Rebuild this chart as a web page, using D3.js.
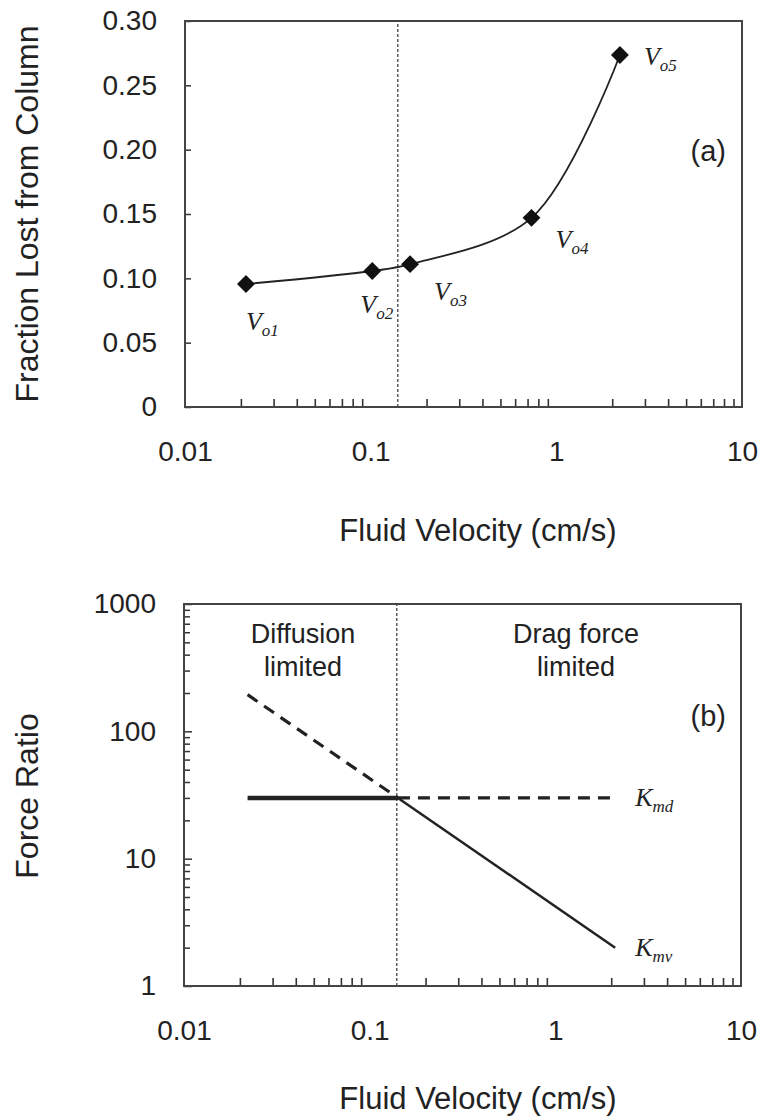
<!DOCTYPE html>
<html>
<head>
<meta charset="utf-8">
<script src="https://cdn.jsdelivr.net/npm/d3@7"></script>
<style>
body { margin: 0; background: #fff; }
text { font-family: "Liberation Sans", Arial, sans-serif; fill: #222; }
.it { font-family: "Liberation Serif", "Times New Roman", serif; font-style: italic; }
</style>
</head>
<body>
<svg id="chart" width="764" height="1120"></svg>
<script>
// panel (a) data
var velocity = [0.0213, 0.102, 0.163, 0.735, 2.2]
var fractionLost = [0.0956, 0.1057, 0.111, 0.147, 0.2736]
var pointNames = ["o1", "o2", "o3", "o4", "o5"]
var criticalVelocity = 0.14

// panel (b) data
var ratioVelocity = [0.022, 0.142, 2.1]
var kmd = [30, 30, 30]
var kmv = [194, 30, 2.0]

var xTicks = [0.01, 0.1, 1, 10]
var fracTicks = [0, 0.05, 0.10, 0.15, 0.20, 0.25, 0.30]
var ratioTicks = [1, 10, 100, 1000]

var svg = d3.select('#chart')

function minors(lo, hi) {
    var out = []
    for (var e = lo; e < hi; e++)
        for (var k = 2; k <= 9; k++) out.push(k * Math.pow(10, e))
    return out
}

function frame(g, x, y) {
    var r = x.range(), t = y.range()
    g.append("rect")
        .attr("x", r[0]).attr("y", t[1])
        .attr("width", r[1] - r[0]).attr("height", t[0] - t[1])
        .attr("fill", "none").attr("stroke", "#444").attr("stroke-width", 2)
}

function xAxisLog(g, x, y0) {
    // inward minor ticks
    g.append("g")
        .attr("transform", `translate(0,${y0})`)
        .call(d3.axisBottom(x).tickValues(minors(-2, 1)).tickSize(-8).tickFormat(""))
        .call(a => a.select(".domain").remove())
        .call(a => a.selectAll("line").attr("stroke", "#333").attr("stroke-width", 1.6))
    g.append("g")
        .attr("transform", `translate(0,${y0})`)
        .call(d3.axisBottom(x).tickValues(xTicks).tickSize(0).tickPadding(34)
            .tickFormat(d => d < 1 ? String(d) : d3.format("d")(d)))
        .call(a => a.select(".domain").remove())
        .call(a => a.selectAll("text").attr("font-size", 28).attr("fill", "#222")
            .attr("font-family", '"Liberation Sans", Arial, sans-serif'))
}

function vline(g, x, y, v) {
    g.append("line")
        .attr("x1", x(v)).attr("x2", x(v))
        .attr("y1", y.range()[0]).attr("y2", y.range()[1])
        .attr("stroke", "#444").attr("stroke-width", 1.3)
        .attr("stroke-dasharray", "3,2")
}

// ---------- panel (a) ----------
var xa = d3.scaleLog().domain([0.01, 10]).range([185, 742])
var ya = d3.scaleLinear().domain([0, 0.30]).range([407, 21])
var ga = svg.append("g")

ga.append("g")
    .attr("transform", `translate(${xa.range()[0]},0)`)
    .call(d3.axisLeft(ya).tickValues(fracTicks).tickSize(-6).tickPadding(28)
        .tickFormat(d => d === 0 ? "0" : d3.format(".2f")(d)))
    .call(a => a.select(".domain").remove())
    .call(a => a.selectAll("line").attr("stroke", "#333").attr("stroke-width", 1.5))
    .call(a => a.selectAll("text").attr("font-size", 28).attr("fill", "#222")
        .attr("font-family", '"Liberation Sans", Arial, sans-serif'))

xAxisLog(ga, xa, 407)
vline(ga, xa, ya, criticalVelocity)

var pts = velocity.map((v, i) => [v, fractionLost[i]])
ga.append("path")
    .attr("d", d3.line().x(d => xa(d[0])).y(d => ya(d[1])).curve(d3.curveCatmullRom.alpha(0.5))(pts))
    .attr("fill", "none").attr("stroke", "#222").attr("stroke-width", 1.8)

ga.selectAll(".pt").data(pts).enter().append("path")
    .attr("transform", d => `translate(${xa(d[0])},${ya(d[1])}) rotate(45)`)
    .attr("d", d3.symbol().type(d3.symbolSquare).size(160))
    .attr("fill", "#111")

var labelOff = [[0, 46], [-12, 42], [24, 36], [24, 30], [24, 10]]
var lbl = ga.selectAll(".vl").data(pts).enter().append("text")
    .attr("class", "it")
    .attr("x", (d, i) => xa(d[0]) + labelOff[i][0])
    .attr("y", (d, i) => ya(d[1]) + labelOff[i][1])
    .attr("font-size", 26)
lbl.append("tspan").text("V")
lbl.append("tspan").attr("font-size", 17).attr("dy", 6).text((d, i) => pointNames[i])

ga.append("text").attr("x", 726).attr("y", 161).attr("text-anchor", "end")
    .attr("font-size", 29).text("(a)")

ga.append("text").attr("x", 478).attr("y", 541).attr("text-anchor", "middle")
    .attr("font-size", 31).text("Fluid Velocity (cm/s)")
ga.append("text").attr("transform", "translate(38,214) rotate(-90)")
    .attr("text-anchor", "middle").attr("font-size", 32).text("Fraction Lost from Column")

frame(ga, xa, ya)

// ---------- panel (b) ----------
var xb = d3.scaleLog().domain([0.01, 10]).range([184, 741])
var yb = d3.scaleLog().domain([1, 1000]).range([986, 604])
var gb = svg.append("g")

gb.append("g")
    .attr("transform", `translate(${xb.range()[0]},0)`)
    .call(d3.axisLeft(yb).tickValues(minors(0, 3)).tickSize(-6).tickFormat(""))
    .call(a => a.select(".domain").remove())
    .call(a => a.selectAll("line").attr("stroke", "#333").attr("stroke-width", 1.5))
gb.append("g")
    .attr("transform", `translate(${xb.range()[0]},0)`)
    .call(d3.axisLeft(yb).tickValues(ratioTicks).tickSize(-8).tickPadding(28)
        .tickFormat(d3.format("d")))
    .call(a => a.select(".domain").remove())
    .call(a => a.selectAll("line").attr("stroke", "#333").attr("stroke-width", 1.5))
    .call(a => a.selectAll("text").attr("font-size", 28).attr("fill", "#222")
        .attr("font-family", '"Liberation Sans", Arial, sans-serif'))

xAxisLog(gb, xb, 986)
vline(gb, xb, yb, criticalVelocity)

var lineB = d3.line().x(d => xb(d[0])).y(d => yb(d[1]))
var kmdPts = ratioVelocity.map((v, i) => [v, kmd[i]])
var kmvPts = ratioVelocity.map((v, i) => [v, kmv[i]])

// K_md: solid while diffusion limited, dashed after
gb.append("path").attr("d", lineB(kmdPts.slice(0, 2)))
    .attr("fill", "none").attr("stroke", "#222").attr("stroke-width", 4.5)
gb.append("path").attr("d", lineB(kmdPts.slice(1)))
    .attr("fill", "none").attr("stroke", "#222").attr("stroke-width", 3.2)
    .attr("stroke-dasharray", "12,8")
// K_mv: dashed while diffusion limited, solid after
gb.append("path").attr("d", lineB(kmvPts.slice(0, 2)))
    .attr("fill", "none").attr("stroke", "#222").attr("stroke-width", 3.2)
    .attr("stroke-dasharray", "12,8")
gb.append("path").attr("d", lineB(kmvPts.slice(1)))
    .attr("fill", "none").attr("stroke", "#222").attr("stroke-width", 2.5)

var kLabels = [["K", "md", kmdPts[2]], ["K", "mv", kmvPts[2]]]
var kl = gb.selectAll(".kl").data(kLabels).enter().append("text")
    .attr("class", "it")
    .attr("x", d => xb(d[2][0]) + 20)
    .attr("y", d => yb(d[2][1]) + 8)
    .attr("font-size", 26)
kl.append("tspan").text(d => d[0])
kl.append("tspan").attr("font-size", 17).attr("dy", 6).text(d => d[1])

var regions = [["Diffusion", "limited", 303], ["Drag force", "limited", 576]]
regions.forEach(function(r) {
    gb.append("text").attr("x", r[2]).attr("y", 643).attr("text-anchor", "middle")
        .attr("font-size", 27).text(r[0])
    gb.append("text").attr("x", r[2]).attr("y", 676).attr("text-anchor", "middle")
        .attr("font-size", 27).text(r[1])
})

gb.append("text").attr("x", 726).attr("y", 726).attr("text-anchor", "end")
    .attr("font-size", 29).text("(b)")

gb.append("text").attr("x", 478).attr("y", 1109).attr("text-anchor", "middle")
    .attr("font-size", 31).text("Fluid Velocity (cm/s)")
gb.append("text").attr("transform", "translate(38,796) rotate(-90)")
    .attr("text-anchor", "middle").attr("font-size", 32).text("Force Ratio")

frame(gb, xb, yb)
</script>
</body>
</html>
